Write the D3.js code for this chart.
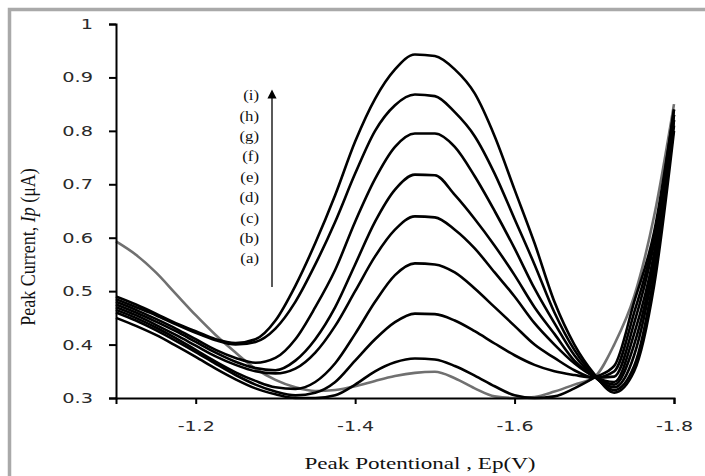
<!DOCTYPE html>
<html><head><meta charset="utf-8">
<script src="https://cdn.jsdelivr.net/npm/d3@7"></script>
<style>body{margin:0;background:#fff}svg{display:block}</style>
</head><body><svg id="c" width="705" height="476"></svg>
<script>
const potentials = [-1.100,-1.125,-1.150,-1.175,-1.200,-1.225,-1.250,-1.275,-1.300,-1.325,-1.350,-1.375,-1.400,-1.425,-1.450,-1.475,-1.500,-1.525,-1.550,-1.575,-1.600,-1.625,-1.650,-1.675,-1.700,-1.725,-1.750,-1.775,-1.800];
const curveA = [0.593,0.568,0.535,0.495,0.455,0.418,0.385,0.355,0.334,0.320,0.313,0.315,0.322,0.332,0.341,0.347,0.349,0.337,0.318,0.303,0.300,0.302,0.312,0.325,0.339,0.400,0.490,0.640,0.850];
const curveB = [0.450,0.435,0.418,0.398,0.377,0.355,0.335,0.318,0.307,0.300,0.300,0.305,0.325,0.350,0.367,0.374,0.372,0.360,0.342,0.322,0.305,0.300,0.303,0.318,0.338,0.360,0.480,0.610,0.840];
const curveC = [0.460,0.445,0.427,0.407,0.386,0.364,0.343,0.325,0.312,0.305,0.310,0.330,0.370,0.410,0.442,0.458,0.457,0.445,0.425,0.402,0.380,0.362,0.350,0.343,0.338,0.350,0.460,0.600,0.840];
const curveD = [0.465,0.450,0.432,0.412,0.390,0.368,0.348,0.332,0.320,0.317,0.330,0.365,0.420,0.480,0.530,0.552,0.550,0.535,0.505,0.470,0.435,0.400,0.375,0.352,0.338,0.340,0.440,0.590,0.830];
const curveE = [0.470,0.455,0.437,0.418,0.398,0.378,0.362,0.350,0.346,0.355,0.385,0.435,0.500,0.565,0.615,0.640,0.638,0.615,0.580,0.535,0.490,0.440,0.400,0.365,0.340,0.330,0.420,0.570,0.830];
const curveF = [0.475,0.460,0.443,0.425,0.405,0.385,0.368,0.356,0.352,0.370,0.410,0.470,0.550,0.630,0.690,0.718,0.717,0.680,0.635,0.585,0.530,0.470,0.420,0.370,0.340,0.325,0.400,0.560,0.820];
const curveG = [0.480,0.465,0.448,0.430,0.410,0.390,0.375,0.366,0.375,0.410,0.470,0.540,0.630,0.710,0.770,0.795,0.795,0.770,0.715,0.650,0.580,0.505,0.440,0.380,0.340,0.320,0.380,0.550,0.820];
const curveH = [0.485,0.470,0.455,0.438,0.422,0.408,0.400,0.405,0.430,0.480,0.550,0.630,0.720,0.800,0.848,0.868,0.865,0.835,0.790,0.720,0.635,0.550,0.460,0.390,0.342,0.315,0.360,0.530,0.810];
const curveI = [0.490,0.475,0.458,0.440,0.425,0.410,0.403,0.410,0.445,0.510,0.590,0.680,0.780,0.860,0.915,0.943,0.940,0.915,0.870,0.790,0.690,0.590,0.480,0.400,0.345,0.310,0.350,0.510,0.800];
const seriesNames = ["(a)","(b)","(c)","(d)","(e)","(f)","(g)","(h)","(i)"];
const xTicks = [-1.2,-1.4,-1.6,-1.8];
const yTicks = [0.3,0.4,0.5,0.6,0.7,0.8,0.9,1];

const allSeries = [curveA,curveB,curveC,curveD,curveE,curveF,curveG,curveH,curveI];
const svg = d3.select("#c");
const SERIF = "Liberation Serif, Times New Roman, serif";

// outer frame
svg.append("rect").attr("x",9.5).attr("y",9.5).attr("width",720).attr("height",500)
  .attr("fill","none").attr("stroke","#a9a9a9").attr("stroke-width",3.5);

const x = d3.scaleLinear().domain([-1.1,-1.8]).range([116,674]);
const y = d3.scaleLinear().domain([0.3,1]).range([398,24]);

const line = d3.line().x((d,i)=>x(potentials[i])).y(d=>y(d)).curve(d3.curveMonotoneX);

allSeries.forEach((s,k)=>{
  svg.append("path").datum(s).attr("d",line).attr("fill","none")
    .attr("stroke", k===0 ? "#707070" : "#000")
    .attr("stroke-width", 2.6).attr("stroke-linejoin","round");
});

// axes
const yAxis = svg.append("g").attr("transform","translate(116,0)")
  .call(d3.axisLeft(y).tickValues(yTicks).tickSize(7).tickFormat(d3.format("")));
const xAxis = svg.append("g").attr("transform","translate(0,398)")
  .call(d3.axisBottom(x).tickValues(xTicks).tickSize(6).tickFormat(d=>d.toFixed(1)));
[yAxis,xAxis].forEach(g=>{
  g.select(".domain").attr("stroke","#000").attr("stroke-width",2);
  g.selectAll(".tick line").attr("stroke","#000").attr("stroke-width",2);
  g.selectAll("text").attr("font-family","DejaVu Sans, Verdana, sans-serif").attr("font-size",14).attr("fill","#2a2a2a");
});
yAxis.selectAll("text").attr("x",0).attr("transform","translate(-23,0) scale(1.38,1)");
xAxis.selectAll("text").attr("y",0).attr("transform","translate(0,23) scale(1.36,1)");

// legend labels
const ly = d3.scaleLinear().domain([0,8]).range([258,95]);
svg.append("g").selectAll("text").data(seriesNames).join("text")
  .attr("transform",(d,i)=>`translate(259,${ly(i)}) scale(1.12,1)`).attr("dy","0.35em").attr("text-anchor","end")
  .attr("font-family",SERIF).attr("font-size",15).attr("fill","#111")
  .text(d=>d);
// arrow
svg.append("defs").append("marker").attr("id","ah").attr("viewBox","0 0 10 10").attr("refX",5).attr("refY",5)
  .attr("markerWidth",7).attr("markerHeight",8).attr("orient","auto")
  .append("path").attr("d","M0,0 L10,5 L0,10 z").attr("fill","#000");
svg.append("line").attr("x1",272).attr("x2",272).attr("y1",287).attr("y2",94)
  .attr("stroke","#000").attr("stroke-width",1.3).attr("marker-end","url(#ah)");

// axis titles
svg.append("text").attr("transform","translate(420,469) scale(1.36,1)").attr("text-anchor","middle")
  .attr("font-family",SERIF).attr("font-size",17).attr("fill","#111")
  .text("Peak Potentional , Ep(V)");
const yt = svg.append("text").attr("transform","translate(35,247) scale(1.2,1) rotate(-90)").attr("text-anchor","middle")
  .attr("font-family",SERIF).attr("font-size",18).attr("fill","#111");
yt.append("tspan").text("Peak Current, ");
yt.append("tspan").attr("font-style","italic").text("Ip");
yt.append("tspan").text(" (μA)");
</script></body></html>
